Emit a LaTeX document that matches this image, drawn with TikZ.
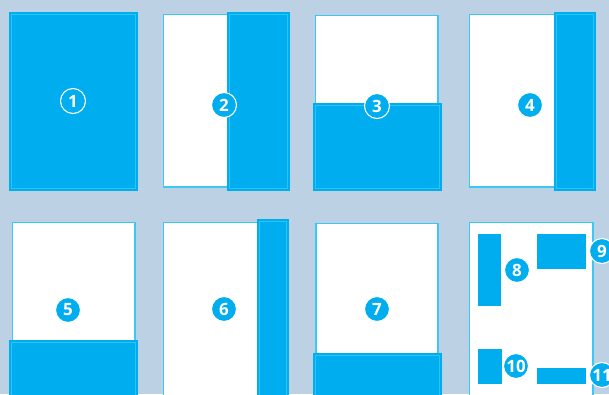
\documentclass[tikz,border=0pt]{standalone}
\usepackage{fontspec}
\setmainfont{Open Sans}
\definecolor{bg}{HTML}{BDD1E4}
\definecolor{cyanfill}{HTML}{00AEEF}
\definecolor{cyanline}{HTML}{2CC3F5}
\definecolor{frameline}{HTML}{3CC8F5}
\tikzset{
  panel/.style={fill=white, draw=frameline, line width=1.3bp},
  bluebox/.style={fill=cyanfill, draw=none},
  innerline/.style={draw=cyanline, line width=1bp},
  badge/.style={circle, fill=cyanfill, draw=white, line width=1.1bp, minimum size=25bp, inner sep=0pt,
    text=white, font=\fontsize{17}{17}\selectfont\bfseries},
}
\begin{document}
\begin{tikzpicture}[x=1bp, y=-1bp]
\useasboundingbox (0,0) rectangle (609,394);
\fill[bg] (0,0) rectangle (609,394);
% ---------- row 1 ----------
% panel 1
\fill[bluebox] (9,12) rectangle (138,191);
\draw[innerline] (11.5,14.5) rectangle (135.5,188.5);
\node[badge] (n1) at (73,101) {1};
% panel 2
\draw[panel] (163.5,14.5) rectangle (287,187);
\fill[bluebox] (227,12) rectangle (290,191);
\draw[innerline] (229.5,14.5) rectangle (287.5,188.5);
\node[badge] (n2) at (224,105) {2};
% panel 3
\draw[panel] (315.5,15.5) rectangle (438,190);
\fill[bluebox] (313,103) rectangle (442,191);
\draw[innerline] (315.5,105.5) rectangle (439.5,188.5);
\node[badge] (n3) at (377,106) {3};
% panel 4
\draw[panel] (469.5,14.5) rectangle (593,187);
\fill[bluebox] (554,12) rectangle (596,191);
\draw[innerline] (556.5,14.5) rectangle (593.5,188.5);
\node[badge] (n4) at (530,105) {4};
% ---------- row 2 ----------
% panel 5
\draw[panel] (12.5,222.5) rectangle (135,400);
\fill[bluebox] (9,340) rectangle (138,400);
\draw[innerline] (11.5,342.5) rectangle (135.5,400);
\node[badge] (n5) at (68,310) {5};
% panel 6
\draw[panel] (163.5,222.5) rectangle (287,400);
\fill[bluebox] (257,219) rectangle (289,400);
\draw[innerline] (259.5,221.5) rectangle (286.5,400);
\node[badge] (n6) at (224,309) {6};
% panel 7
\draw[panel] (316,223.5) rectangle (438,400);
\fill[bluebox] (313,353) rectangle (442,400);
\draw[innerline] (315.5,355.5) rectangle (439.5,400);
\node[badge] (n7) at (377,309) {7};
% panel 8
\draw[panel] (469.5,222.5) rectangle (593,400);
\fill[bluebox] (478,234) rectangle (501,306);
\fill[bluebox] (537,234) rectangle (586,269);
\fill[bluebox] (478,349) rectangle (502,384);
\fill[bluebox] (537,368) rectangle (586,384);
\node[badge] (n8) at (517,270) {8};
\node[badge] (n9) at (602,251) {9};
\node[badge] (n10) at (516,366) {10};
\node[badge] (n11) at (602,375) {11};
\end{tikzpicture}
\end{document}
